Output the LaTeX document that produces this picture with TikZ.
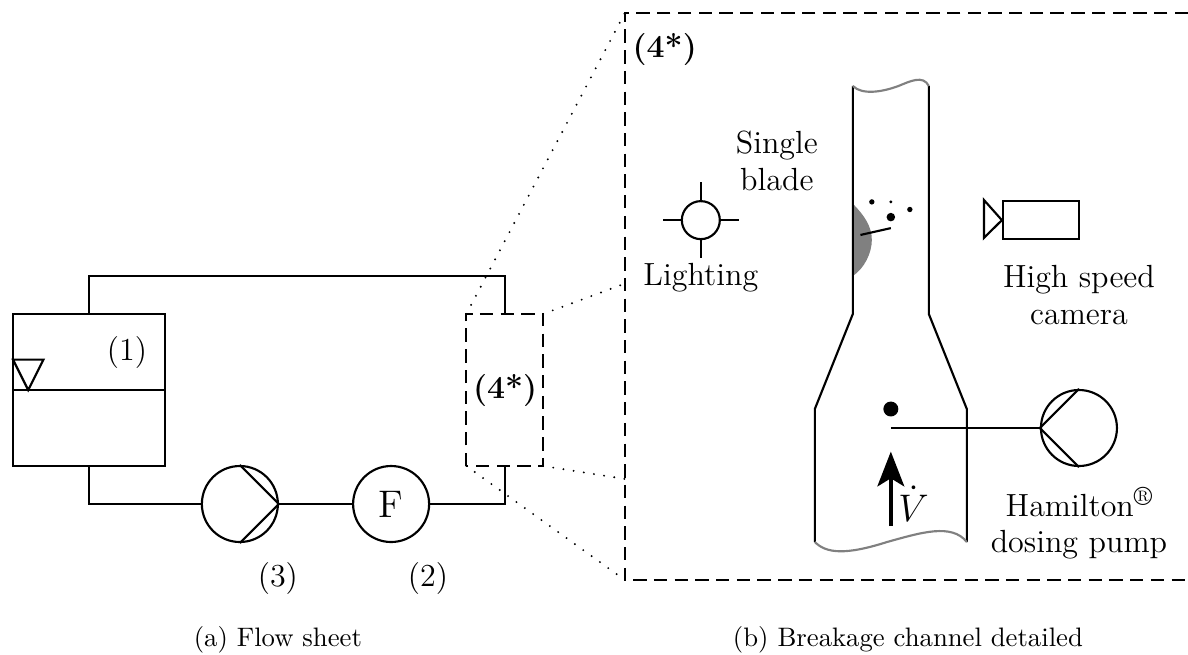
\documentclass[tikz,border=0pt]{standalone}
\usepackage{amsmath}
\usetikzlibrary{arrows.meta}
\tikzset{
  line/.style={thick},
  pumpnode/.style={draw, thick, circle, minimum size=1cm, inner sep=0pt},
  txt/.style={inner sep=0pt, align=center, font=\fontsize{12}{13.6}\selectfont},
  captxt/.style={inner sep=0pt, font=\fontsize{10}{12}\selectfont},
  zoomline/.style={line width=.8pt, line cap=round, dash pattern=on 0pt off 3.85pt},
  box/.style={thick, dash pattern=on 5pt off 2.75pt},
  particle/.style={circle, fill=black, inner sep=0pt},
  wave/.style={gray, thick}
}
\begin{document}
\begin{tikzpicture}[x=.5cm, y=.5cm, >=latex]
\useasboundingbox (-.342,-4.947) rectangle (30.92,12.263);
% flow sheet
\coordinate (T1) at (0,0);
\coordinate (T2) at (4,4);
\draw[line] (T1) rectangle (T2);
\coordinate (W1) at (0,2);
\coordinate (W2) at (4,2);
\draw[line] (W1)--(W2);
\draw[line] (0,2.8)--(.8,2.8)--(.4,2)--cycle;
\node[pumpnode] (pump) at (5.97,-1) {};
\node[pumpnode, font=\fontsize{14.4}{15}\selectfont] (F) at (9.95,-1) {F};
\draw[line] (pump.east)--(pump.north);
\draw[line] (pump.east)--(pump.south);
\coordinate (a) at (2,0);
\coordinate (b) at (2,-1);
\coordinate (c) at (12.95,-1);
\coordinate (d) at (12.95,0);
\coordinate (e) at (12.95,4);
\coordinate (f) at (12.95,5);
\coordinate (g) at (2,5);
\coordinate (h) at (2,4);
\draw[line] (a)--(b)--(pump.west);
\draw[line] (pump.east)--(F.west);
\draw[line] (F.east)--(c)--(d);
\draw[line] (e)--(f)--(g)--(h);
\coordinate (S1) at (11.93,0);
\coordinate (S2) at (13.95,4);
\coordinate (S3) at (11.93,4);
\coordinate (S4) at (13.95,0);
\draw[box] (S1) rectangle (S2);
\node[txt] (mark) at (12.95,2) {\textbf{(4*)}};
\node[txt] (n1) at (3,3) {(1)};
\node[txt] (n3) at (6.97,-2.95) {(3)};
\node[txt] (n2) at (10.92,-2.95) {(2)};
% detail
\coordinate (D1) at (16.1,-3);
\coordinate (D2) at (30.92,11.92);
\coordinate (D3) at (16.1,11.92);
\coordinate (D4) at (16.1,4.8);
\coordinate (D5) at (16.1,-.34);
\draw[box] (D2)--(D3)--(D1)--(D1-|D2);
\draw[zoomline] (S3)--(D3);
\draw[zoomline] (S2)--(D4);
\draw[zoomline] (S4)--(D5);
\draw[zoomline] (S1)--(D1);
\node[txt] (mark2) at (17.15,10.95) {\textbf{(4*)}};
% channel
\coordinate (C1) at (22.1,10);
\coordinate (C2) at (24.1,10);
\coordinate (C3) at (22.1,4);
\coordinate (C4) at (24.1,4);
\coordinate (C5) at (21.1,1.5);
\coordinate (C6) at (25.1,1.5);
\coordinate (C7) at (21.1,-2);
\coordinate (C8) at (25.1,-2);
\fill[black!50] (22.1,6.9) .. controls (22.4,6.6) and (22.6,6.3) .. (22.6,5.95) .. controls (22.6,5.6) and (22.4,5.2) .. (22.1,5)--cycle;
\draw[line] (C1)--(C3)--(C5)--(C7);
\draw[line] (C2)--(C4)--(C6)--(C8);
\draw[wave] (C1) .. controls (22.35,9.75) and (22.9,9.85) .. (23.3,10) .. controls (23.6,10.12) and (23.95,10.3) .. (C2);
\draw[wave] (C7) .. controls (21.4,-2.3) and (21.9,-2.35) .. (23,-2) .. controls (23.9,-1.75) and (24.7,-1.5) .. (C8);
\coordinate (B1) at (22.3,6.08);
\coordinate (B2) at (23.1,6.26);
\draw[line] (B1)--(B2);
\node[particle, minimum size=2pt] (p1) at (22.6,6.95) {};
\node[particle, minimum size=1.2pt] (p2) at (23.1,6.95) {};
\node[particle, minimum size=2pt] (p3) at (23.6,6.75) {};
\node[particle, minimum size=3.2pt] (p4) at (23.1,6.55) {};
\node[particle, minimum size=5.6pt] (drop) at (23.1,1.5) {};
% dosing
\coordinate (N) at (23.1,1);
\node[pumpnode] (dose) at (28.05,1) {};
\draw[line] (N)--(dose.west);
\draw[line] (dose.west)--(dose.north);
\draw[line] (dose.west)--(dose.south);
\coordinate (V1) at (23.1,-1.58);
\coordinate (V2) at (23.1,.38);
\draw[-{Stealth[length=13pt,width=10pt,inset=3pt]}, line width=1.6pt] (V1)--(V2);
\node[txt, font=\fontsize{15}{15}\selectfont] (Vdot) at (23.7,-1) {$\dot{V}$};
\node[txt] (hamilton) at (28.05,-1.5) {Hamilton\raisebox{.35em}{\fontsize{10}{10}\selectfont\textregistered}\\dosing pump};
% lighting
\node[draw, thick, circle, minimum size=.5cm, inner sep=0pt] (lamp) at (18.1,6.47) {};
\coordinate (L1) at (18.1,7.47);
\coordinate (L2) at (18.1,5.47);
\coordinate (L3) at (17.1,6.47);
\coordinate (L4) at (19.1,6.47);
\draw[line] (lamp.north)--(L1);
\draw[line] (lamp.south)--(L2);
\draw[line] (lamp.west)--(L3);
\draw[line] (lamp.east)--(L4);
\node[txt] (lighting) at (18.1,4.95) {Lighting};
\node[txt] (blade) at (20.1,8.03) {Single\\blade};
% camera
\node[draw, thick, minimum width=1cm, minimum height=.5cm, inner sep=0pt] (cam) at (27.05,6.47) {};
\coordinate (K1) at (25.55,7);
\coordinate (K2) at (25.55,6);
\draw[line] (cam.west)--(K1)--(K2)--cycle;
\node[txt] (speed) at (28.05,4.5) {High speed\\camera};
% captions
\node[captxt] (capa) at (6.97,-4.58) {(a) Flow sheet};
\node[captxt] (capb) at (23.55,-4.58) {(b) Breakage channel detailed};
\end{tikzpicture}
\end{document}
